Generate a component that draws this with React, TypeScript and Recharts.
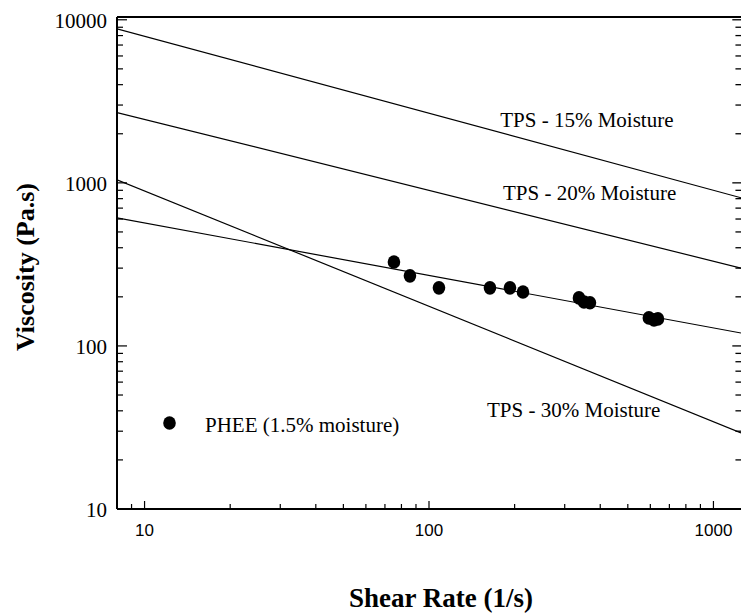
import React from 'react';
import { ScatterChart, Scatter, XAxis, YAxis, ReferenceLine } from 'recharts';

const SERIF = '"Liberation Serif", "Times New Roman", serif';
const SANS = '"Liberation Sans", Arial, sans-serif';

const CHART_W = 742;
const CHART_H = 615;

// axis ranges
const X_DOMAIN = [8, 1250];
const Y_DOMAIN = [10, 10400];

const X_TICKS = [9, 10, 20, 30, 40, 50, 60, 70, 80, 90, 100, 200, 300, 400, 500, 600, 700, 800, 900, 1000];
const X_LABELS = [10, 100, 1000];
const Y_TICKS = [
  10, 20, 30, 40, 50, 60, 70, 80, 90,
  100, 200, 300, 400, 500, 600, 700, 800, 900,
  1000, 2000, 3000, 4000, 5000, 6000, 7000, 8000, 9000, 10000,
];
const Y_LABELS = [10, 100, 1000, 10000];

// power-law lines, values at both ends of the shear rate axis
const FIT_RATE = [8, 1250];
const TPS15_VISC = [8800, 810];
const TPS20_VISC = [2700, 300];
const TPS30_VISC = [1045, 29.3];
const PHEE_FIT_VISC = [610, 120];

// measured PHEE points
const PHEE_RATE = [75.3, 85.7, 108.4, 163.8, 192.6, 214, 336.7, 350.8, 368, 593, 618, 638];
const PHEE_VISC = [327, 269, 227, 227, 227, 214, 197, 186, 184, 148.5, 144.4, 146.5];

const LINE_NAMES = ['TPS - 15% Moisture', 'TPS - 20% Moisture', 'TPS - 30% Moisture'];

const pairs = (xs: number[], ys: number[]) => xs.map((x, i) => ({ x, y: ys[i] }));

const tps15 = pairs(FIT_RATE, TPS15_VISC);
const tps20 = pairs(FIT_RATE, TPS20_VISC);
const tps30 = pairs(FIT_RATE, TPS30_VISC);
const pheeFit = pairs(FIT_RATE, PHEE_FIT_VISC);
const phee = pairs(PHEE_RATE, PHEE_VISC);

// where the line names sit (start of text, baseline)
const notes = [
  { x: 178, y: 2208, text: LINE_NAMES[0] },
  { x: 182, y: 787, text: LINE_NAMES[1] },
  { x: 160, y: 36.6, text: LINE_NAMES[2] },
];

// right-edge tick marks: short segments ending on the last shear rate
const RIGHT_MAJOR_FROM = 1165;
const RIGHT_MINOR_FROM = 1195;

if (typeof document !== 'undefined') {
  document.documentElement.style.overflow = 'hidden';
  document.body.style.overflow = 'hidden';
}

const LeftTick = (props: any) => {
  const { x, y, payload } = props;
  const major = Y_LABELS.includes(payload.value);
  return (
    <g>
      <line x1={x} x2={x + (major ? 10 : 6)} y1={y} y2={y} stroke="#000" strokeWidth={1.2} />
      {major && (
        <text x={x - 10} y={y + 8} textAnchor="end" fontFamily={SERIF} fontSize={21} fill="#000">
          {payload.value}
        </text>
      )}
    </g>
  );
};

const BottomTick = (props: any) => {
  const { x, y, payload } = props;
  const major = X_LABELS.includes(payload.value);
  return (
    <g>
      <line x1={x} x2={x} y1={y} y2={y - (major ? 8 : 5)} stroke="#000" strokeWidth={1.2} />
      {major && (
        <text x={x} y={y + 27} textAnchor="middle" fontFamily={SANS} fontSize={17} fill="#000">
          {payload.value}
        </text>
      )}
    </g>
  );
};

const YTitle = (props: any) => {
  const { viewBox } = props;
  const cx = viewBox.x + 34;
  const cy = viewBox.y + viewBox.height / 2 + 4;
  return (
    <text
      x={cx}
      y={cy}
      transform={`rotate(-90 ${cx} ${cy})`}
      textAnchor="middle"
      fontFamily={SERIF}
      fontSize={26}
      fontWeight="bold"
      fill="#000"
    >
      Viscosity (Pa.s)
    </text>
  );
};

const XTitle = (props: any) => {
  const { viewBox } = props;
  return (
    <text
      x={viewBox.x + viewBox.width / 2 + 12}
      y={viewBox.y + 98}
      textAnchor="middle"
      fontFamily={SERIF}
      fontSize={27}
      fontWeight="bold"
      fill="#000"
    >
      Shear Rate (1/s)
    </text>
  );
};

const noDot = () => <g />;
const dot = (p: any) => <ellipse cx={p.cx} cy={p.cy} rx={6.3} ry={6.8} fill="#000" />;
const noteText = (p: any) => (
  <text x={p.cx} y={p.cy} fontFamily={SERIF} fontSize={21} fill="#000">
    {p.payload.text}
  </text>
);

const lineStyle = { stroke: '#000', strokeWidth: 1.2 };

export default function App() {
  return (
    <div style={{ position: 'absolute', left: 0, top: 0, width: CHART_W, height: CHART_H, background: '#fff' }}>
      <ScatterChart width={CHART_W} height={CHART_H} margin={{ top: 17, right: 1, bottom: 0, left: 0 }}>
        <XAxis
          dataKey="x"
          type="number"
          scale="log"
          domain={X_DOMAIN}
          allowDataOverflow
          ticks={X_TICKS}
          interval={0}
          tick={<BottomTick />}
          tickLine={false}
          tickSize={0}
          tickMargin={0}
          height={106}
          axisLine={{ stroke: '#000', strokeWidth: 2 }}
          label={<XTitle />}
        />
        <YAxis
          dataKey="y"
          type="number"
          scale="log"
          domain={Y_DOMAIN}
          allowDataOverflow
          ticks={Y_TICKS}
          interval={0}
          tick={<LeftTick />}
          tickLine={false}
          tickSize={0}
          tickMargin={0}
          width={117}
          axisLine={{ stroke: '#000', strokeWidth: 2 }}
          label={<YTitle />}
        />
        <ReferenceLine y={Y_DOMAIN[1]} stroke="#000" strokeWidth={2} />
        {Y_TICKS.map((v) => (
          <ReferenceLine
            key={v}
            segment={[
              { x: Y_LABELS.includes(v) ? RIGHT_MAJOR_FROM : RIGHT_MINOR_FROM, y: v },
              { x: X_DOMAIN[1], y: v },
            ]}
            stroke="#000"
            strokeWidth={1.3}
            ifOverflow="visible"
          />
        ))}
        <Scatter data={tps15} line={lineStyle} shape={noDot} isAnimationActive={false} />
        <Scatter data={tps20} line={lineStyle} shape={noDot} isAnimationActive={false} />
        <Scatter data={tps30} line={lineStyle} shape={noDot} isAnimationActive={false} />
        <Scatter data={pheeFit} line={lineStyle} shape={noDot} isAnimationActive={false} />
        <Scatter data={phee} shape={dot} isAnimationActive={false} />
        <Scatter data={notes} shape={noteText} isAnimationActive={false} />
      </ScatterChart>
      <div style={{ position: 'absolute', left: 160, top: 410 }}>
        <svg width={250} height={30}>
          <ellipse cx={9.5} cy={13} rx={6.3} ry={6.8} fill="#000" />
          <text x={45} y={22} fontFamily={SERIF} fontSize={21} fill="#000">
            PHEE (1.5% moisture)
          </text>
        </svg>
      </div>
    </div>
  );
}
